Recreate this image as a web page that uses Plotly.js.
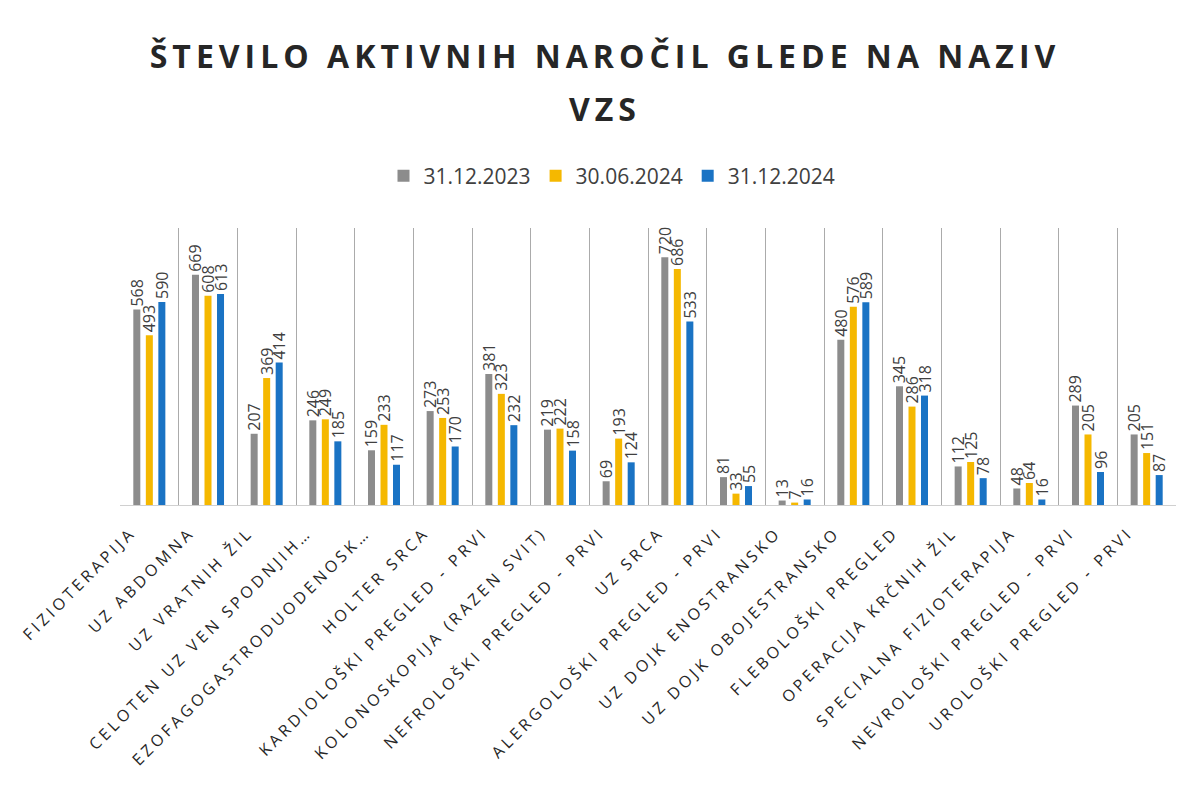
<!DOCTYPE html>
<html>
<head>
<meta charset="utf-8">
<script src="https://cdn.plot.ly/plotly-3.0.1.min.js"></script>
<style>
body{margin:0;background:#fff}
#chart{width:1195px;height:796px}
.xtick text{letter-spacing:3.6px}
.gtitle{letter-spacing:5px}
.annotation-text{letter-spacing:5px}
</style>
</head>
<body>
<div id="chart"></div>
<script>
const categories = [
  "FIZIOTERAPIJA", "UZ ABDOMNA", "UZ VRATNIH ŽIL", "CELOTEN UZ VEN SPODNJIH…",
  "EZOFAGOGASTRODUODENOSK…", "HOLTER SRCA", "KARDIOLOŠKI PREGLED - PRVI",
  "KOLONOSKOPIJA (RAZEN SVIT)", "NEFROLOŠKI PREGLED - PRVI", "UZ SRCA",
  "ALERGOLOŠKI PREGLED - PRVI", "UZ DOJK ENOSTRANSKO", "UZ DOJK OBOJESTRANSKO",
  "FLEBOLOŠKI PREGLED", "OPERACIJA KRČNIH ŽIL", "SPECIALNA FIZIOTERAPIJA",
  "NEVROLOŠKI PREGLED - PRVI", "UROLOŠKI PREGLED - PRVI"
];
const seriesNames = ["31.12.2023", "30.06.2024", "31.12.2024"];
const v2023 = [568, 669, 207, 246, 159, 273, 381, 219, 69, 720, 81, 13, 480, 345, 112, 48, 289, 205];
const v2024a = [493, 608, 369, 249, 233, 253, 323, 222, 193, 686, 33, 7, 576, 286, 125, 64, 205, 151];
const v2024b = [590, 613, 414, 185, 117, 170, 232, 158, 124, 533, 55, 16, 589, 318, 78, 16, 96, 87];
const titleLine1 = "ŠTEVILO AKTIVNIH NAROČIL GLEDE NA NAZIV";
const titleLine2 = "VZS";

const colors = ["#8c8c8c", "#f5b800", "#1a73c4"];
const series = [v2023, v2024a, v2024b];
const traces = series.map((vals, i) => ({
  type: "bar",
  name: seriesNames[i],
  x: categories,
  y: vals,
  marker: {color: colors[i]},
  text: vals.map(String),
  textposition: "outside",
  textangle: -90,
  constraintext: "none",
  cliponaxis: false,
  textfont: {family: "Open Sans, sans-serif", size: 16, color: "#404040"},
  hoverinfo: "x+y+name"
}));

const layout = {
  width: 1195, height: 796,
  paper_bgcolor: "#ffffff", plot_bgcolor: "#ffffff",
  margin: {l: 120, r: 19, t: 228, b: 291},
  barmode: "group",
  bargap: 0.36,
  bargroupgap: 0.44,
  title: {
    text: titleLine1,
    x: 605 / 1195, xanchor: "center",
    y: 1 - 57/796, yanchor: "middle", yref: "container",
    font: {family: "Open Sans, sans-serif", size: 32, color: "#262626", weight: "bold"}
  },
  annotations: [{
    text: titleLine2, showarrow: false,
    xref: "paper", yref: "paper", x: (605 - 120) / 1056, xanchor: "center",
    y: 1 + (228 - 108) / 277, yanchor: "middle",
    font: {family: "Open Sans, sans-serif", size: 32, color: "#262626", weight: "bold"}
  }],
  showlegend: true,
  legend: {
    orientation: "h", x: (612 - 120) / 1056, xanchor: "center", y: 1 + (228 - 176) / 277, yanchor: "middle",
    font: {family: "Open Sans, sans-serif", size: 21, color: "#404040"},
    itemwidth: 30, tracegroupgap: 0
  },
  xaxis: {
    type: "category",
    tickson: "boundaries",
    showgrid: true, gridcolor: "#ababab", gridwidth: 1,
    showline: true, linecolor: "#d0d0d0", linewidth: 1,
    ticks: "", tickangle: -45,
    ticklabelshift: -18, ticklabelstandoff: 11,
    tickfont: {family: "Open Sans, sans-serif", size: 16, color: "#262626"},
    automargin: false
  },
  yaxis: {
    range: [0, 805],
    showgrid: false, zeroline: false, showticklabels: false, showline: false,
    ticks: ""
  }
};

Plotly.newPlot("chart", traces, layout, {displayModeBar: false, staticPlot: true});
</script>
</body>
</html>
